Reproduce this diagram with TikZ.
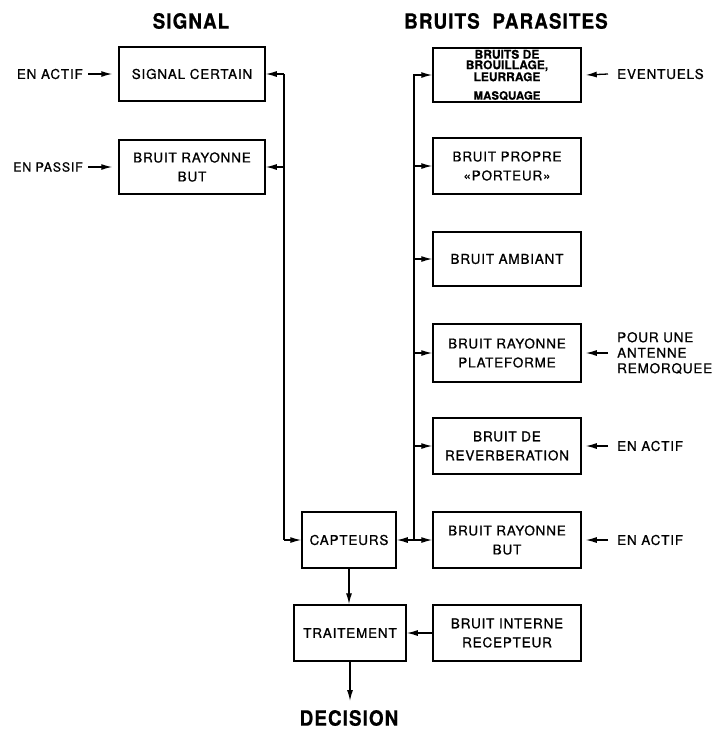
\documentclass[tikz,border=0pt]{standalone}
\usepackage{fontspec}
\setmainfont{TeX Gyre Heros}
\newfontfamily\boxfont[LetterSpace=6,FakeBold=0.9]{TeX Gyre Heros}
\newfontfamily\titlefont[FakeStretch=0.9,LetterSpace=5,FakeBold=0.6]{TeX Gyre Heros}
\newfontfamily\smallbold[FakeBold=0.4]{TeX Gyre Heros}
\usetikzlibrary{arrows.meta}
\begin{document}
\begin{tikzpicture}[x=1pt,y=-1pt,
  blk/.style={draw,line width=1.5pt,minimum height=54pt,align=center,inner sep=0pt,font=\boxfont\fontsize{13.5}{19}\selectfont},
  lbox/.style={blk,minimum width=146pt},
  rbox/.style={blk,minimum width=148pt},
  lab/.style={inner sep=0pt,font=\boxfont\fontsize{13.5}{15.5}\selectfont,align=left},
  ttl/.style={inner sep=0pt,font=\titlefont\bfseries\fontsize{21}{25}\selectfont},
  conn/.style={line width=1.2pt},
  arr/.style={line width=1.3pt,-{Latex[length=11pt,width=6pt]}},
]
\useasboundingbox (0,0) rectangle (720,729);
% titles
\node[ttl] (tsig) at (191,21) {SIGNAL};
\node[ttl] (tbp) at (506,21) {BRUITS\ \ PARASITES};
\node[ttl] (dec) at (349,718) {DECISION};
% left boxes
\node[lbox] (sc) at (192,74) {SIGNAL CERTAIN};
\node[lbox] (brb) at (192,167) {BRUIT RAYONNE\\BUT};
% right boxes
\node[rbox,font=\smallbold\bfseries\fontsize{12}{10.5}\selectfont] (brou) at (507,75) {BRUITS DE\\BROUILLAGE,\\LEURRAGE\\[8pt]{\fontsize{11.5}{11}\selectfont MASQUAGE}};
\node[rbox,minimum height=56pt] (port) at (507,166) {BRUIT PROPRE\\«PORTEUR»};
\node[rbox] (amb) at (507,259) {BRUIT AMBIANT};
\node[rbox,minimum height=58pt] (plat) at (507,353) {BRUIT RAYONNE\\PLATEFORME};
\node[rbox,minimum height=56pt] (rev) at (507,446) {BRUIT DE\\REVERBERATION};
\node[rbox,minimum height=56pt] (brr) at (507,540) {BRUIT RAYONNE\\BUT};
\node[rbox,minimum height=56pt] (int) at (507,633) {BRUIT INTERNE\\RECEPTEUR};
% centre boxes
\node[blk,minimum width=94pt,minimum height=56pt] (cap) at (349,540) {CAPTEURS};
\node[blk,minimum width=112pt,minimum height=56pt] (trt) at (350,633) {TRAITEMENT};
% side labels
\node[lab,anchor=east] (la1) at (83,74) {EN ACTIF};
\node[lab,anchor=east,font=\boxfont\fontsize{12.5}{15}\selectfont] (la2) at (83,167) {EN PASSIF};
\node[lab,anchor=west] (ev) at (617,74) {EVENTUELS};
\node[lab,anchor=west] (pour) at (617,353) {POUR UNE\\ANTENNE\\REMORQUEE};
\node[lab,anchor=west] (ea1) at (617,446) {EN ACTIF};
\node[lab,anchor=west] (ea2) at (617,540) {EN ACTIF};
% label arrows
\draw[arr] ([xshift=5pt]la1.east) -- ([xshift=-6pt]sc.west);
\draw[arr] ([xshift=5pt]la2.east) -- ([xshift=-6pt]brb.west);
\draw[arr] ([xshift=-9pt]ev.west) -- ([xshift=4pt]brou.east);
\draw[arr] ([xshift=-9pt]pour.west) -- ([xshift=4pt]plat.east);
\draw[arr] ([xshift=-9pt]ea1.west) -- ([xshift=4pt]rev.east);
\draw[arr] ([xshift=-9pt]ea2.west) -- ([xshift=4pt]brr.east);
% left bus
\coordinate (lbt) at (284,74);
\coordinate (lbb) at (284,540);
\draw[conn] (lbt) -- (lbb);
\draw[arr] (lbt) -- (sc.east);
\draw[arr] (lbt |- brb.east) -- (brb.east);
\draw[arr] (lbb) -- (cap.west);
% right bus
\coordinate (rbt) at (414,74);
\coordinate (rbb) at (414,540);
\draw[conn] (rbt) -- (rbb);
\draw[arr] (rbb) -- (cap.east);
\foreach \b in {brou,port,amb,plat,rev,brr}{
  \draw[arr] (rbt |- \b.west) -- (\b.west);
}
% processing chain
\draw[arr] (cap.south) -- (cap.south |- trt.north);
\draw[arr] (int.west) -- (trt.east);
\coordinate (dend) at (350,701);
\draw[arr] (trt.south) -- (dend);
\end{tikzpicture}
\end{document}
